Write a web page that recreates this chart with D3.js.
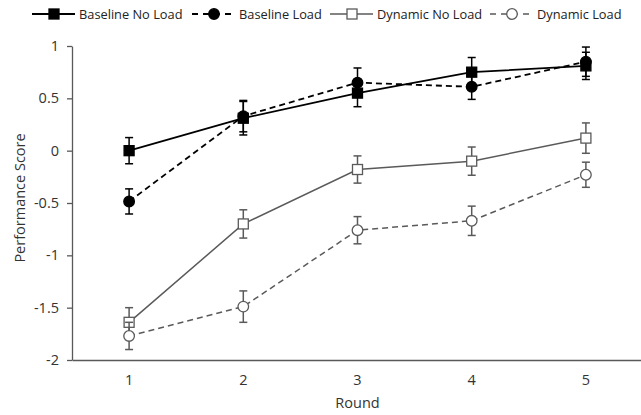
<!DOCTYPE html>
<html>
<head>
<meta charset="utf-8">
<script src="https://cdn.jsdelivr.net/npm/d3@7"></script>
<style>
  body { margin: 0; background: #fff; }
  svg { font-family: "Open Sans", "Liberation Sans", sans-serif; }
</style>
</head>
<body>
<svg id="chart" width="641" height="415"></svg>
<script>
// chart data
const rounds = ["1", "2", "3", "4", "5"];
const seriesNames = ["Baseline No Load", "Baseline Load", "Dynamic No Load", "Dynamic Load"];
const baselineNoLoad = [0.0, 0.31, 0.55, 0.75, 0.81];
const baselineLoad = [-0.485, 0.33, 0.65, 0.61, 0.85];
const dynamicNoLoad = [-1.64, -0.70, -0.18, -0.10, 0.12];
const dynamicLoad = [-1.77, -1.49, -0.76, -0.67, -0.23];
const baselineNoLoadErr = [0.125, 0.16, 0.13, 0.14, 0.13];
const baselineLoadErr = [0.12, 0.15, 0.14, 0.12, 0.14];
const dynamicNoLoadErr = [0.14, 0.135, 0.13, 0.135, 0.145];
const dynamicLoadErr = [0.13, 0.15, 0.13, 0.14, 0.12];
const yTicks = [1, 0.5, 0, -0.5, -1, -1.5, -2];

const black = "#000";
const grey = "#5a5a5a";

const series = [
  { name: seriesNames[0], values: baselineNoLoad, err: baselineNoLoadErr, color: black, dash: null, shape: "square", fill: black, width: 1.8 },
  { name: seriesNames[1], values: baselineLoad, err: baselineLoadErr, color: black, dash: "6,4", shape: "circle", fill: black, width: 1.8 },
  { name: seriesNames[2], values: dynamicNoLoad, err: dynamicNoLoadErr, color: grey, dash: null, shape: "square", fill: "#fff", width: 1.5 },
  { name: seriesNames[3], values: dynamicLoad, err: dynamicLoadErr, color: grey, dash: "6,4", shape: "circle", fill: "#fff", width: 1.5 }
];

const svg = d3.select("#chart");
const plotLeft = 72, plotRight = 643, plotTop = 46, plotBottom = 360;

const x = d3.scaleBand().domain(rounds).range([plotLeft, plotRight]);
const cx = d => x(d) + x.bandwidth() / 2;
const y = d3.scaleLinear().domain([-2, 1]).range([plotBottom, plotTop]);

// y axis
const yAxis = svg.append("g")
  .attr("transform", `translate(${plotLeft},0)`)
  .call(d3.axisLeft(y).tickValues(yTicks).tickSize(5).tickSizeOuter(0)
    .tickFormat(d => String(d)));
yAxis.select(".domain").attr("stroke", "#595959").attr("stroke-width", 1.3);
yAxis.selectAll(".tick line").attr("stroke", "#595959").attr("stroke-width", 1.3);
yAxis.selectAll(".tick text").attr("font-size", 14.5).attr("fill", "#333")
  .attr("font-family", "Open Sans").attr("x", -13);

// x axis
const xAxis = svg.append("g")
  .attr("transform", `translate(0,${plotBottom})`)
  .call(d3.axisBottom(x).tickSize(0).tickSizeOuter(0));
xAxis.select(".domain").attr("stroke", "#595959").attr("stroke-width", 1.5);
xAxis.selectAll(".tick text").attr("font-size", 14.5).attr("fill", "#333")
  .attr("font-family", "Open Sans").attr("y", 25).attr("dy", null);

// axis titles
svg.append("text")
  .attr("x", cx("3")).attr("y", 408)
  .attr("text-anchor", "middle").attr("font-size", 14.5).attr("fill", "#333")
  .text("Round");
svg.append("text")
  .attr("transform", `translate(25,${(plotTop + plotBottom) / 2 - 5}) rotate(-90)`)
  .attr("text-anchor", "middle").attr("font-size", 14.5).attr("fill", "#333")
  .text("Performance Score");

function drawMarker(g, px, py, s) {
  if (s.shape === "square") {
    g.append("rect")
      .attr("x", px - 5).attr("y", py - 5).attr("width", 10).attr("height", 10)
      .attr("fill", s.fill).attr("stroke", s.color).attr("stroke-width", 1.3);
  } else {
    g.append("circle")
      .attr("cx", px).attr("cy", py).attr("r", 5.3)
      .attr("fill", s.fill).attr("stroke", s.color).attr("stroke-width", 1.3);
  }
}

const line = d3.line().x((d, i) => cx(rounds[i])).y(d => y(d));

// draw series, grey first so black sits on top
[2, 3, 0, 1].forEach(k => {
  const s = series[k];
  const g = svg.append("g");
  g.append("path")
    .attr("d", line(s.values))
    .attr("fill", "none").attr("stroke", s.color)
    .attr("stroke-width", s.width)
    .attr("stroke-dasharray", s.dash);
  s.values.forEach((v, i) => {
    const px = cx(rounds[i]);
    const hi = y(v + s.err[i]), lo = y(v - s.err[i]);
    g.append("line").attr("x1", px).attr("x2", px).attr("y1", hi).attr("y2", lo)
      .attr("stroke", s.color).attr("stroke-width", 1.5);
    [hi, lo].forEach(yy => {
      g.append("line").attr("x1", px - 4).attr("x2", px + 4).attr("y1", yy).attr("y2", yy)
        .attr("stroke", s.color).attr("stroke-width", 1.5);
    });
    drawMarker(g, px, y(v), s);
  });
});

// legend
const legendX = [32, 192, 330, 490];
const ly = 14;
series.forEach((s, i) => {
  const g = svg.append("g").attr("transform", `translate(${legendX[i]},${ly})`);
  g.append("line").attr("x1", 0).attr("x2", 43).attr("y1", 0).attr("y2", 0)
    .attr("stroke", s.color).attr("stroke-width", s.width)
    .attr("stroke-dasharray", s.dash ? "6,5" : null);
  drawMarker(g, 22, 0, s);
  g.append("text").attr("x", 47).attr("y", 0).attr("dy", "0.36em")
    .attr("font-size", 12.8).attr("fill", "#222")
    .text(s.name);
});
</script>
</body>
</html>
